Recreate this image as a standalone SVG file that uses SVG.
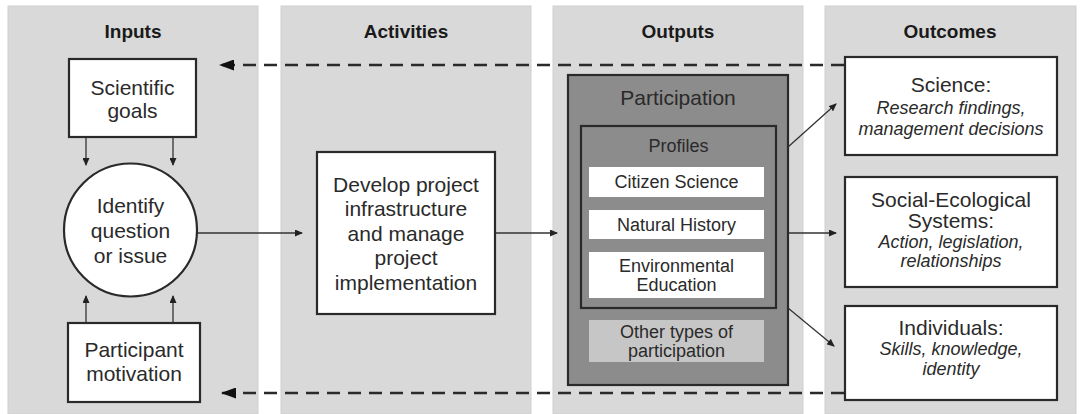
<svg xmlns="http://www.w3.org/2000/svg" width="1083" height="414" viewBox="0 0 1083 414">
<style>
.panel{fill:#d9d9d9;stroke:#cfcfcf;stroke-width:1}
.hdr{font-family:"Liberation Sans",Arial,sans-serif;font-weight:bold;font-size:19px;fill:#1a1a1a;text-anchor:middle}
.box{fill:#ffffff;stroke:#2a2a2a;stroke-width:2.2}
.t{font-family:"Liberation Sans",Arial,sans-serif;font-size:21px;fill:#2a2a2a;text-anchor:middle}
.s{font-family:"Liberation Sans",Arial,sans-serif;font-size:18px;fill:#2a2a2a;text-anchor:middle}
.i{font-family:"Liberation Sans",Arial,sans-serif;font-size:18px;font-style:italic;fill:#2a2a2a;text-anchor:middle}
.dark{fill:#8c8c8c;stroke:#2a2a2a;stroke-width:2.2}
.wh{fill:#ffffff}
.conn{stroke:#333333;stroke-width:1.3;fill:none}
.dash{stroke:#2a2a2a;stroke-width:2.6;fill:none;stroke-dasharray:13 8}
</style>
<defs>
<marker id="ah" markerUnits="userSpaceOnUse" markerWidth="8" markerHeight="7" refX="7" refY="3.5" orient="auto">
<path d="M0,0 L8,3.5 L0,7 Z" fill="#222"/>
</marker>
<marker id="big" markerUnits="userSpaceOnUse" markerWidth="15" markerHeight="11" refX="14" refY="5.5" orient="auto">
<path d="M0,0 L15,5.5 L0,11 Z" fill="#111"/>
</marker>
</defs>

<g id="panels">
<rect class="panel" x="8" y="6" width="250" height="408"/>
<rect class="panel" x="281" y="6" width="250" height="408"/>
<rect class="panel" x="553" y="6" width="250" height="408"/>
<rect class="panel" x="825" y="6" width="251" height="408"/>
<text class="hdr" x="133" y="38">Inputs</text>
<text class="hdr" x="406" y="38">Activities</text>
<text class="hdr" x="678" y="38">Outputs</text>
<text class="hdr" x="950" y="38">Outcomes</text>
</g>

<g id="connectors">
<line class="dash" x1="844" y1="65" x2="220" y2="65" marker-end="url(#big)"/>
<line class="dash" x1="844" y1="393" x2="222" y2="393" marker-end="url(#big)"/>
<line class="conn" x1="86" y1="137" x2="86" y2="165" marker-end="url(#ah)"/>
<line class="conn" x1="173" y1="137" x2="173" y2="165" marker-end="url(#ah)"/>
<line class="conn" x1="86" y1="323" x2="86" y2="296" marker-end="url(#ah)"/>
<line class="conn" x1="173" y1="323" x2="173" y2="296" marker-end="url(#ah)"/>
<line class="conn" x1="197" y1="233" x2="302" y2="233" marker-end="url(#ah)"/>
<line class="conn" x1="495" y1="233" x2="557" y2="233" marker-end="url(#ah)"/>
<line class="conn" x1="788" y1="147" x2="836" y2="104" marker-end="url(#ah)"/>
<line class="conn" x1="788" y1="233" x2="836" y2="233" marker-end="url(#ah)"/>
<line class="conn" x1="788" y1="308" x2="834" y2="346" marker-end="url(#ah)"/>
</g>

<g id="scientific-goals">
<rect class="box" x="69" y="59" width="127" height="78"/>
<text class="t" x="132.5" y="95">Scientific</text>
<text class="t" x="132.5" y="118">goals</text>
</g>

<g id="identify-question">
<circle class="box" cx="130.5" cy="230" r="66.5"/>
<text class="t" x="130.5" y="213">Identify</text>
<text class="t" x="130.5" y="238">question</text>
<text class="t" x="130.5" y="263">or issue</text>
</g>

<g id="participant-motivation">
<rect class="box" x="68" y="323" width="132" height="79"/>
<text class="t" x="134" y="357">Participant</text>
<text class="t" x="134" y="381">motivation</text>
</g>

<g id="develop-project">
<rect class="box" x="317" y="152" width="178" height="162"/>
<text class="t" x="406" y="192">Develop project</text>
<text class="t" x="406" y="216">infrastructure</text>
<text class="t" x="406" y="241">and manage</text>
<text class="t" x="406" y="265">project</text>
<text class="t" x="406" y="290">implementation</text>
</g>

<g id="participation">
<rect class="dark" x="568" y="75" width="220" height="310"/>
<text class="t" x="678" y="105">Participation</text>
</g>

<g id="profiles">
<rect class="dark" x="581" y="126" width="195" height="182"/>
<text class="s" x="678.5" y="152">Profiles</text>
</g>

<g id="citizen-science">
<rect class="wh" x="589" y="167" width="175" height="30"/>
<text class="s" x="676.5" y="188">Citizen Science</text>
</g>

<g id="natural-history">
<rect class="wh" x="589" y="210" width="175" height="29"/>
<text class="s" x="676.5" y="231">Natural History</text>
</g>

<g id="environmental-education">
<rect class="wh" x="589" y="252" width="175" height="46"/>
<text class="s" x="676.5" y="272">Environmental</text>
<text class="s" x="676.5" y="291">Education</text>
</g>

<g id="other-types">
<rect x="589" y="320" width="175" height="42" fill="#c6c6c6"/>
<text class="s" x="676.5" y="338">Other types of</text>
<text class="s" x="676.5" y="357">participation</text>
</g>

<g id="science">
<rect class="box" x="845" y="57" width="212" height="98"/>
<text class="t" x="951" y="92">Science:</text>
<text class="i" x="951" y="114">Research findings,</text>
<text class="i" x="951" y="135">management decisions</text>
</g>

<g id="social-ecological">
<rect class="box" x="845" y="177" width="212" height="110"/>
<text class="t" x="951" y="207">Social-Ecological</text>
<text class="t" x="951" y="228">Systems:</text>
<text class="i" x="951" y="248">Action, legislation,</text>
<text class="i" x="951" y="267">relationships</text>
</g>

<g id="individuals">
<rect class="box" x="845" y="306" width="212" height="94"/>
<text class="t" x="951" y="335">Individuals:</text>
<text class="i" x="951" y="355">Skills, knowledge,</text>
<text class="i" x="951" y="375">identity</text>
</g>
</svg>
